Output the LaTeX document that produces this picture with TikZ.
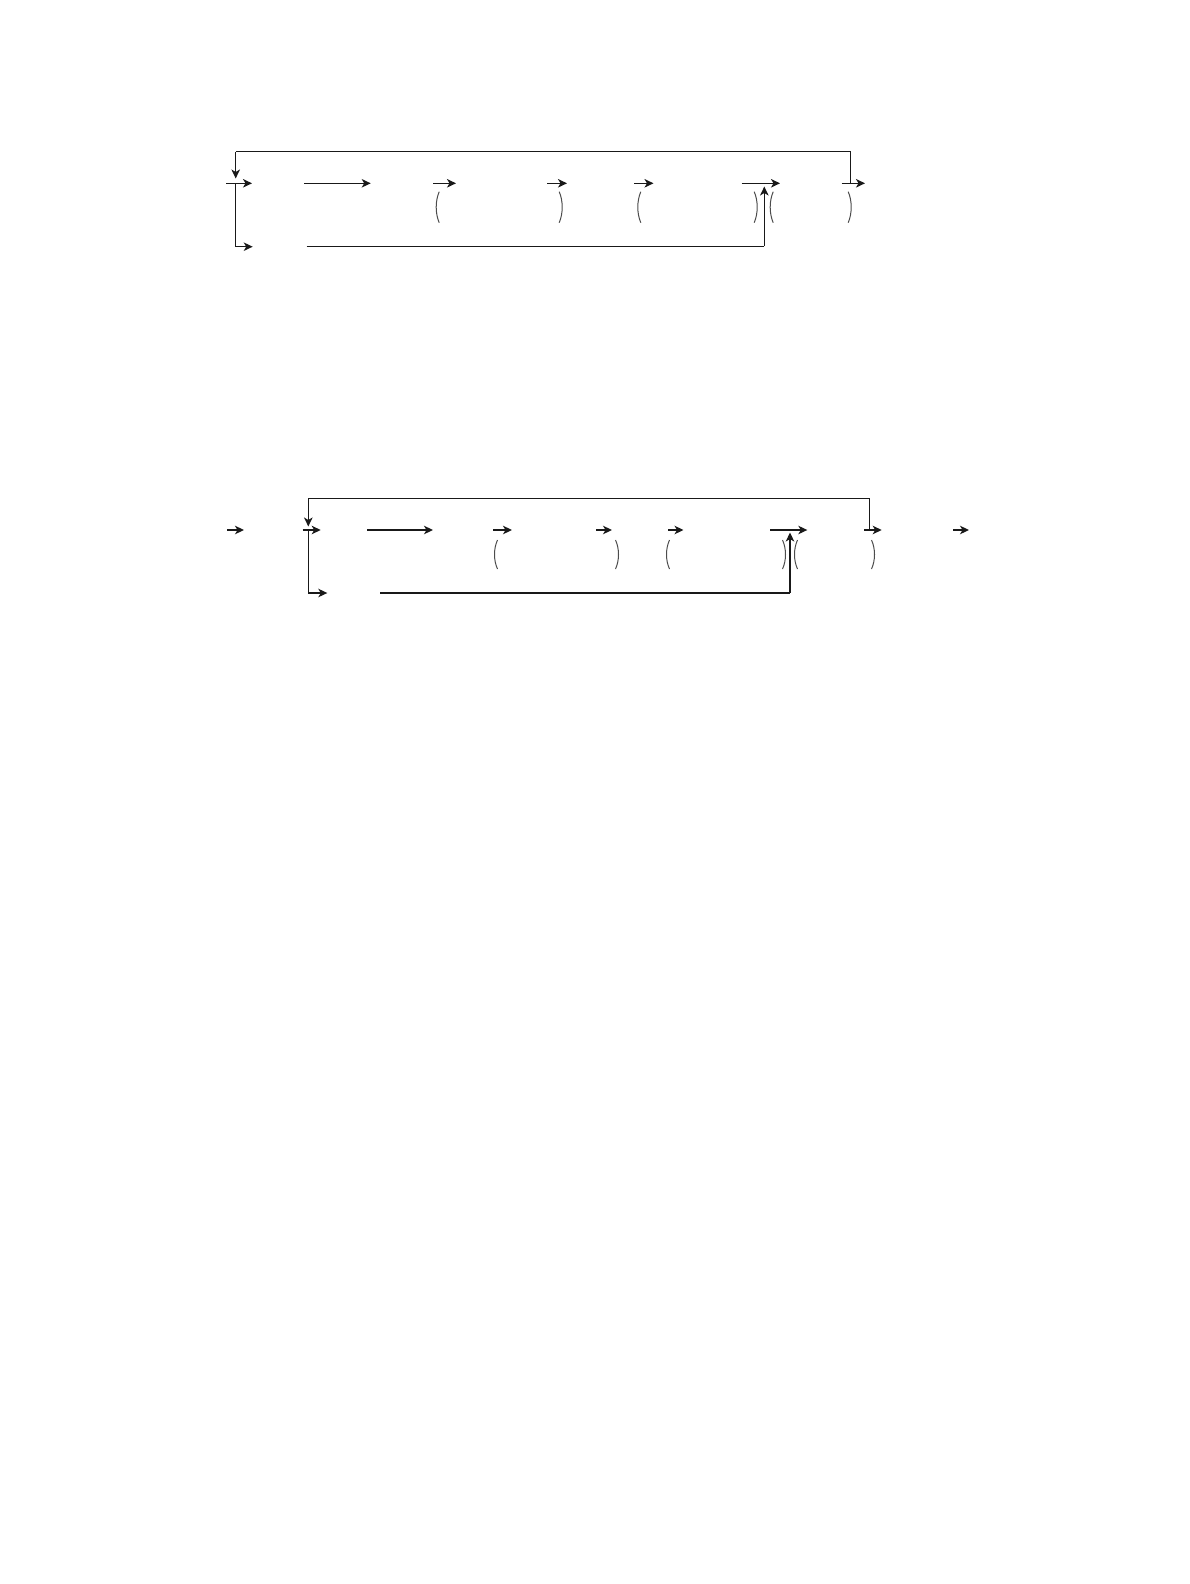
\documentclass[tikz,border=0pt]{standalone}
\usetikzlibrary{arrows.meta}
\tikzset{
  wire/.style={line width=1.3pt, black!90},
  arr/.style={wire, -{Stealth[length=9pt, width=8.5pt, inset=2.5pt]}},
  paren/.style={line width=1pt, black!70},
}
\newcommand{\myLP}[3]{% x, ytop, ybottom
  \draw[paren] ({#1+2.5},{#2}) .. controls ({#1-1.5},{#2+0.3*(#3-#2)}) and ({#1-1.5},{#2+0.7*(#3-#2)}) .. ({#1+2.5},{#3});}
\newcommand{\myRP}[3]{%
  \draw[paren] ({#1-2.5},{#2}) .. controls ({#1+1.5},{#2+0.3*(#3-#2)}) and ({#1+1.5},{#2+0.7*(#3-#2)}) .. ({#1-2.5},{#3});}
\begin{document}
\begin{tikzpicture}[x=1pt,y=-1pt]
\useasboundingbox (0,0) rectangle (1190,1584);
% ---------- first diagram ----------
\coordinate (aTL) at (235.7,151.7);
\coordinate (aTR) at (850.7,151.7);
\coordinate (aRowL) at (235.7,183.3);
\coordinate (aRowR) at (850.7,183.3);
\coordinate (aBL) at (235.7,246.7);
\coordinate (aUp) at (764.3,246.3);
% loop back
\draw[wire] (aRowR) -- (aTR) -- (aTL);
\draw[arr] (aTL) -- (235.7,178.5);
% branch down
\draw[wire] (aRowL) -- (aBL);
\draw[arr] (aBL) -- (252.7,246.7);
\draw[wire] (306.5,246.3) -- (aUp);
\draw[arr] (aUp) -- (764.3,186.5);
% row arrows
\draw[arr] (226,183.3) -- (252,183.3);
\draw[arr] (304.3,183.3) -- (370.7,183.3);
\draw[arr] (433,183.3) -- (456,183.3);
\draw[arr] (547,183.3) -- (567,183.3);
\draw[arr] (634,183.3) -- (653.5,183.3);
\draw[arr] (741.7,183.3) -- (780,183.3);
\draw[arr] (841.7,183.3) -- (865,183.3);
% parentheses
\myLP{436.7}{191.7}{222.7}
\myRP{561.7}{191.7}{222.7}
\myLP{638.3}{191.7}{222.7}
\myRP{756.7}{191.7}{222.7}
\myLP{770.7}{191.7}{222.7}
\myRP{850.7}{191.7}{222.7}
% ---------- second diagram ----------
\coordinate (bTL) at (308.3,498.3);
\coordinate (bTR) at (869.3,498.3);
\coordinate (bRowL) at (308.3,530);
\coordinate (bRowR) at (869.3,530);
\coordinate (bBL) at (308.3,593);
\coordinate (bUp) at (790,593);
\draw[wire] (bRowR) -- (bTR) -- (bTL);
\draw[arr] (bTL) -- (308.3,526.5);
\draw[wire] (bRowL) -- (bBL);
\draw[arr] (bBL) -- (327.3,593);
\draw[wire] (380,593) -- (bUp);
\draw[arr] (bUp) -- (790,532.5);
\draw[arr] (227.3,530) -- (244,530);
\draw[arr] (302.7,530) -- (320.7,530);
\draw[arr] (367,530) -- (433,530);
\draw[arr] (493,530) -- (512,530);
\draw[arr] (596,530) -- (612,530);
\draw[arr] (668,530) -- (683.5,530);
\draw[arr] (770,530) -- (807.3,530);
\draw[arr] (864,530) -- (881.7,530);
\draw[arr] (953,530) -- (969,530);
\myLP{495}{540}{569}
\myRP{618}{540}{569}
\myLP{667}{540}{569}
\myRP{785}{540}{569}
\myLP{795}{540}{569}
\myRP{874}{540}{569}
\end{tikzpicture}
\end{document}
